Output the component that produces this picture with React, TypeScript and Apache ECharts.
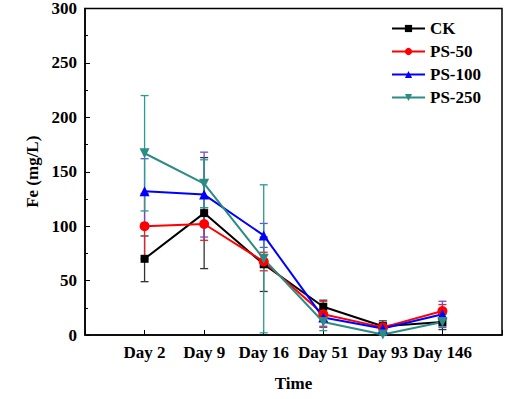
import React, { useEffect, useRef } from "react";
import * as echarts from "echarts";

const categories = ["Day 2", "Day 9", "Day 16", "Day 51", "Day 93", "Day 146"];
const seriesNames = ["CK", "PS-50", "PS-100", "PS-250"];
const ckValues = [70, 112, 65, 26, 8, 12];
const ckErrors = [21, 51, 25, 6, 5, 7];
const ps50Values = [100, 102, 67.5, 19, 7, 22];
const ps50Errors = [30, 15, 8.5, 12, 4, 6];
const ps100Values = [132, 129, 91.5, 16, 6, 19];
const ps100Errors = [30, 39, 11, 8, 5, 12];
const ps250Values = [167, 139, 70, 12, 0.5, 12];
const ps250Errors = [53, 22, 68, 8, 2, 4];
const yTicks = [0, 50, 100, 150, 200, 250, 300];

const FONT = "'Liberation Serif', 'Times New Roman', serif";

export default function App() {
  const ref = useRef<HTMLDivElement>(null);
  useEffect(() => {
    if (!ref.current) return;
    const chart = echarts.init(ref.current, undefined, { renderer: "svg" });
    const values = [ckValues, ps50Values, ps100Values, ps250Values];
    const errors = [ckErrors, ps50Errors, ps100Errors, ps250Errors];
    const colors = ["#000000", "#ff0000", "#0000ff", "#2a8c85"];
    const errColors = ["#333333", "#e8202a", "#6a4fd0", "#2a9a92"];
    const symbols = ["rect", "circle", "triangle", "path://M0,0 L10,0 L5,9 Z"];
    const sizes = [8, 10, 10, 10];

    const lineSeries = values.map((vals, i) => ({
      name: seriesNames[i],
      type: "line",
      data: vals.map((v, k) => [k + 1, v]),
      symbol: symbols[i],
      symbolSize: sizes[i],
      itemStyle: { color: colors[i] },
      lineStyle: { color: colors[i], width: 2 },
      z: 3,
    }));

    const errSeries = values.map((vals, i) => ({
      name: seriesNames[i] + "-err",
      type: "custom",
      data: vals.map((v, k) => [k + 1, v - errors[i][k], v + errors[i][k]]),
      renderItem: (params: any, api: any) => {
        const x = api.value(0);
        const lo = api.coord([x, Math.max(api.value(1), 0)]);
        const hi = api.coord([x, api.value(2)]);
        const w = 4;
        const style = { stroke: errColors[i], lineWidth: 1.3 };
        return {
          type: "group",
          children: [
            { type: "line", shape: { x1: lo[0], y1: lo[1], x2: hi[0], y2: hi[1] }, style },
            { type: "line", shape: { x1: hi[0] - w, y1: hi[1], x2: hi[0] + w, y2: hi[1] }, style },
            { type: "line", shape: { x1: lo[0] - w, y1: lo[1], x2: lo[0] + w, y2: lo[1] }, style },
          ],
        };
      },
      z: 2,
    }));

    chart.setOption({
      animation: false,
      grid: {
        left: 85,
        right: 18,
        top: 7,
        bottom: 64,
        show: true,
        borderColor: "#000",
        borderWidth: 1.5,
        backgroundColor: "transparent",
      },
      legend: {
        data: seriesNames,
        orient: "vertical",
        left: 386,
        top: 15,
        itemWidth: 33,
        itemHeight: 9,
        itemGap: 6,
        textStyle: { fontFamily: FONT, fontWeight: "bold", fontSize: 17, color: "#000" },
      },
      xAxis: {
        type: "value",
        min: 0,
        max: categories.length + 1,
        interval: 1,
        name: "Time",
        nameLocation: "middle",
        nameGap: 40,
        nameTextStyle: { fontFamily: FONT, fontWeight: "bold", fontSize: 17, color: "#000" },
        axisLine: { lineStyle: { color: "#000", width: 1.5 } },
        axisTick: { inside: true, length: 5, lineStyle: { color: "#000" } },
        splitLine: { show: false },
        axisLabel: {
          fontFamily: FONT,
          fontWeight: "bold",
          fontSize: 17,
          color: "#000",
          margin: 9,
          formatter: (v: number) => (v >= 1 && v <= categories.length ? categories[v - 1] : ""),
        },
      },
      yAxis: {
        type: "value",
        min: yTicks[0],
        max: yTicks[yTicks.length - 1],
        interval: 50,
        name: "Fe (mg/L)",
        nameLocation: "middle",
        nameGap: 39,
        nameTextStyle: { fontFamily: FONT, fontWeight: "bold", fontSize: 17, color: "#000" },
        axisLine: { show: true, lineStyle: { color: "#000", width: 1.5 } },
        axisTick: { inside: true, length: 5, lineStyle: { color: "#000" } },
        minorTick: { show: true, splitNumber: 2, length: 3, lineStyle: { color: "#000" } },
        splitLine: { show: false },
        axisLabel: { fontFamily: FONT, fontWeight: "bold", fontSize: 17, color: "#000", margin: 8 },
      },
      series: [...errSeries, ...lineSeries],
    });
    return () => chart.dispose();
  }, []);
  return <div ref={ref} style={{ width: 520, height: 399, position: "absolute", left: 0, top: 0 }} />;
}
